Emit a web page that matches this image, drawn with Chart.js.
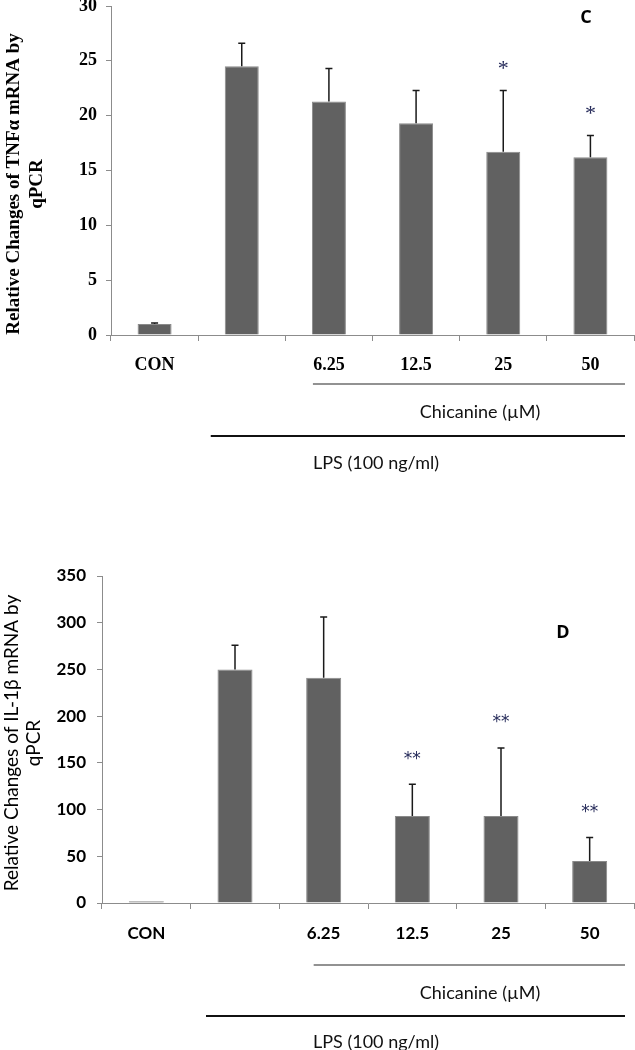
<!DOCTYPE html>
<html>
<head>
<meta charset="utf-8">
<script src="https://cdn.jsdelivr.net/npm/chart.js@4.4.1/dist/chart.umd.min.js"></script>
<style>
  body { margin: 0; background: #fff; width: 635px; height: 1050px; overflow: hidden; position: relative; }
  .box { position: absolute; left: 0; }
  #box1 { top: -20px; }
  #box2 { top: 480px; }
</style>
</head>
<body>
<div class="box" id="box1"><canvas id="tnfChart" width="635" height="500"></canvas></div>
<div class="box" id="box2"><canvas id="il1bChart" width="635" height="570"></canvas></div>
<script>
// categories shared by both panels
const categories = ['CON', '', '6.25', '12.5', '25', '50'];

// panel C - TNFa
const tnfValues = [1.0, 24.5, 21.3, 19.3, 16.7, 16.2];
const tnfErrors = [0.1, 2.1, 3.0, 3.0, 5.6, 2.0];
const tnfSig = ['', '', '', '', '*', '*'];
const tnfTicks = [0, 5, 10, 15, 20, 25, 30];

// panel D - IL-1b
const ilValues = [2, 250, 241, 93, 93, 45];
const ilErrors = [0, 26, 65, 34, 73, 25];
const ilSig = ['', '', '', '**', '**', '**'];
const ilTicks = [0, 50, 100, 150, 200, 250, 300, 350];

const serif = '"Liberation Serif", "Times New Roman", serif';
const sans = 'Lato, "Noto Sans", sans-serif';

function extras(cfg) {
  return {
    id: 'extras',
    afterDatasetsDraw(chart) {
      const ctx = chart.ctx;
      const xs = chart.scales.x, ys = chart.scales.y;
      const area = chart.chartArea;
      const bars = chart.getDatasetMeta(0).data;
      ctx.save();
      // error bars, upward only
      ctx.strokeStyle = '#1a1a1a';
      ctx.lineWidth = 1.5;
      bars.forEach((bar, i) => {
        const top = ys.getPixelForValue(cfg.values[i] + cfg.errors[i]);
        if (cfg.errors[i] > 0) {
          ctx.beginPath();
          ctx.moveTo(bar.x, bar.y);
          ctx.lineTo(bar.x, top);
          ctx.moveTo(bar.x - 3.5, top);
          ctx.lineTo(bar.x + 3.5, top);
          ctx.stroke();
        }
        if (cfg.sig[i]) {
          ctx.fillStyle = '#262b5a';
          ctx.font = cfg.sigFont;
          ctx.textAlign = 'center';
          ctx.textBaseline = 'middle';
          ctx.fillText(cfg.sig[i], bar.x, top - cfg.sigGap);
        }
      });

      // panel letter
      ctx.fillStyle = '#000';
      ctx.font = 'bold 18px "Open Sans", sans-serif';
      ctx.textAlign = 'center';
      ctx.textBaseline = 'middle';
      ctx.fillText(cfg.letter, cfg.letterX, cfg.letterY);

      // group lines under the axis
      const base = area.bottom;
      const c2 = xs.getPixelForValue(2);
      const c1 = xs.getPixelForValue(1);
      ctx.strokeStyle = '#6e6e6e';
      ctx.lineWidth = 1.5;
      ctx.beginPath();
      ctx.moveTo(c2 + cfg.chicStart, base + cfg.chicLine);
      ctx.lineTo(area.right - 9, base + cfg.chicLine);
      ctx.stroke();
      ctx.strokeStyle = '#111';
      ctx.lineWidth = 2;
      ctx.beginPath();
      ctx.moveTo(c1 + cfg.lpsStart, base + cfg.lpsLine);
      ctx.lineTo(area.right - 9, base + cfg.lpsLine);
      ctx.stroke();

      ctx.fillStyle = '#111';
      ctx.font = '18px ' + sans;
      ctx.textAlign = 'center';
      ctx.fillText('Chicanine (\u00b5M)', 480, base + cfg.chicText);
      ctx.textAlign = 'left';
      ctx.fillText('LPS (100 ng/ml)', 313, base + cfg.lpsText);

      // y axis title, two lines
      ctx.font = cfg.titleFont;
      ctx.fillStyle = '#000';
      ctx.textAlign = 'center';
      ctx.translate(cfg.titleX, cfg.titleY);
      ctx.rotate(-Math.PI / 2);
      ctx.fillText(cfg.title[0], 0, 0);
      ctx.fillText(cfg.title[1], 0, cfg.titleGap);
      ctx.restore();
    }
  };
}

function makeChart(id, cfg) {
  return new Chart(id, {
    type: 'bar',
    data: {
      labels: categories,
      datasets: [{
        data: cfg.values,
        backgroundColor: '#616161',
        borderColor: '#8a8a8a',
        borderWidth: 1,
        categoryPercentage: 1,
        barPercentage: cfg.barPct
      }]
    },
    options: {
      responsive: false,
      animation: false,
      events: [],
      layout: { padding: { top: cfg.padTop, right: 1, left: 0, bottom: 0 } },
      plugins: { legend: { display: false }, tooltip: { enabled: false } },
      scales: {
        x: {
          grid: { drawOnChartArea: false, drawTicks: true, tickLength: 6, color: '#8c8c8c' },
          border: { color: '#8c8c8c', width: 1 },
          ticks: { color: '#000', font: cfg.tickFont, padding: cfg.xPad, maxRotation: 0 },
          afterFit: (s) => { s.height = cfg.xHeight; }
        },
        y: {
          min: 0,
          max: cfg.ticks[cfg.ticks.length - 1],
          afterBuildTicks: (s) => { s.ticks = cfg.ticks.map(v => ({ value: v })); },
          grid: { drawOnChartArea: false, drawTicks: true, tickLength: 5, color: '#8c8c8c' },
          border: { color: '#8c8c8c', width: 1 },
          ticks: { color: '#000', font: cfg.tickFont, padding: cfg.yPad },
          afterFit: (s) => { s.width = cfg.yWidth; }
        }
      }
    },
    plugins: [extras(cfg)]
  });
}

makeChart('tnfChart', {
  values: tnfValues, errors: tnfErrors, sig: tnfSig, ticks: tnfTicks,
  barPct: 0.39, padTop: 26, xHeight: 145, yWidth: 111, yPad: 9, xPad: 14,
  tickFont: { family: serif, size: 18, weight: 'bold' },
  sigFont: '22px ' + serif, sigGap: 21,
  letter: 'C', letterX: 586, letterY: 38,
  chicStart: -16, chicLine: 49, chicText: 77, lpsStart: -31, lpsLine: 101, lpsText: 128,
  title: ['Relative Changes of TNF\u03b1 mRNA by', 'qPCR'],
  titleFont: 'bold 19px ' + serif, titleX: 14, titleY: 204, titleGap: 23
});

makeChart('il1bChart', {
  values: ilValues, errors: ilErrors, sig: ilSig, ticks: ilTicks,
  barPct: 0.395, padTop: 96, xHeight: 147, yWidth: 102, yPad: 11, xPad: 14,
  tickFont: { family: sans, size: 17, weight: 'bold' },
  sigFont: '17px "DejaVu Sans", sans-serif', sigGap: 25,
  letter: 'D', letterX: 563, letterY: 153,
  chicStart: -10, chicLine: 62, chicText: 90, lpsStart: -29, lpsLine: 113, lpsText: 139,
  title: ['Relative Changes of IL-1\u03b2 mRNA by', 'qPCR'],
  titleFont: '19px ' + sans, titleX: 12, titleY: 263, titleGap: 22
});
</script>
</body>
</html>
